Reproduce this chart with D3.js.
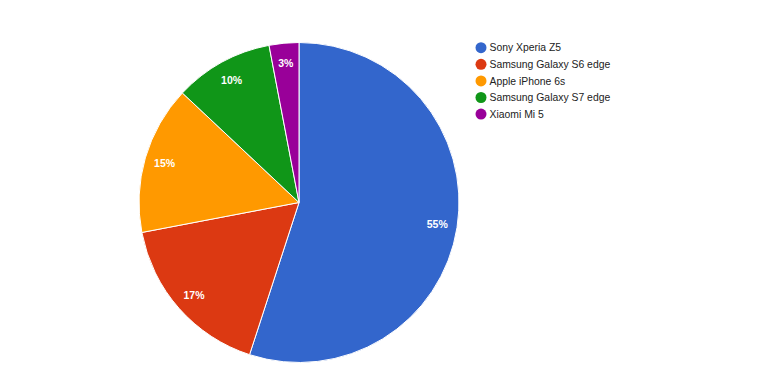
<!DOCTYPE html>
<html><head><meta charset="utf-8">
<script src="https://cdn.jsdelivr.net/npm/d3@7"></script>
<style>body{margin:0;background:#fff}svg{display:block}</style>
</head><body>
<svg id="c" width="782" height="376"></svg>
<script>
const categories = ["Sony Xperia Z5","Samsung Galaxy S6 edge","Apple iPhone 6s","Samsung Galaxy S7 edge","Xiaomi Mi 5"];
const values = [55,17,15,10,3];
const colors = ["#3366cc","#dc3912","#ff9900","#109618","#990099"];

const svg = d3.select("#c");
const cx = 299, cy = 202.5, r = 160;
const pie = d3.pie().sort(null).value(d=>d)(values);
const arc = d3.arc().innerRadius(0).outerRadius(r);
const labelArc = d3.arc().innerRadius(r*0.875).outerRadius(r*0.875);
const total = d3.sum(values);
const g = svg.append("g").attr("transform",`translate(${cx},${cy})`);
g.selectAll("path").data(pie).join("path")
  .attr("d",arc).attr("fill",(d,i)=>colors[i])
  .attr("stroke","#fff").attr("stroke-width",1);
g.selectAll("text").data(pie).join("text")
  .attr("transform",d=>`translate(${labelArc.centroid(d)})`)
  .attr("text-anchor","middle").attr("dy","0.36em")
  .attr("font-family","Liberation Sans, Arial, sans-serif")
  .attr("font-size",10.5).attr("font-weight","bold").attr("fill","#fff")
  .text(d=>Math.round(d.value/total*100)+"%");

const lg = svg.append("g").attr("transform","translate(481,47.7)");
const items = lg.selectAll("g").data(categories).join("g")
  .attr("transform",(d,i)=>`translate(0,${i*16.6})`);
items.append("circle").attr("r",5.5).attr("fill",(d,i)=>colors[i]);
items.append("text").attr("x",8.5).attr("dy","0.36em")
  .attr("font-family","Liberation Sans, Arial, sans-serif")
  .attr("font-size",10.4).attr("fill","#222").text(d=>d);
</script>
</body></html>
